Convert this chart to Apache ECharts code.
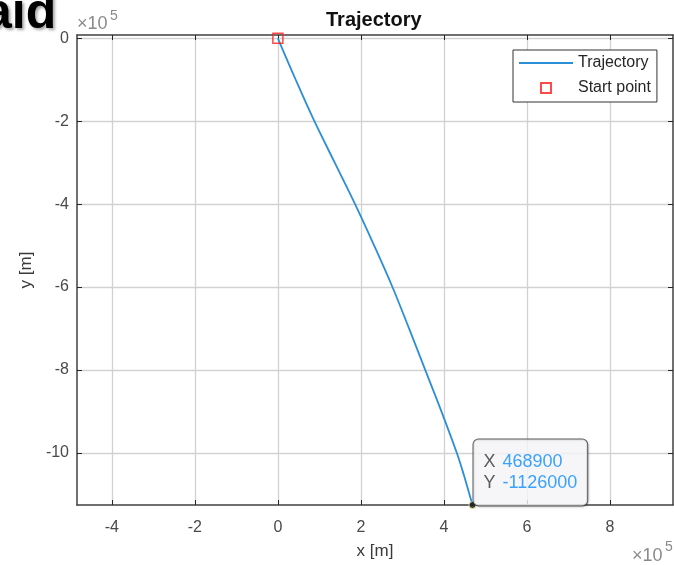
<!DOCTYPE html>
<html>
<head>
<meta charset="utf-8">
<script src="https://cdn.jsdelivr.net/npm/echarts@6/dist/echarts.min.js"></script>
<style>
html,body{margin:0;padding:0;background:#fff;}
#chart{width:674px;height:565px;}
</style>
</head>
<body>
<div id="chart"></div>
<script>
// ---- data ----
const trajX = [0, 43000, 88000, 137000, 186000, 232000, 276000, 316000, 355000, 394000, 431000, 447000, 461500, 468900];
const trajY = [0, -100000, -200000, -300000, -400000, -500000, -600000, -700000, -800000, -900000, -1000000, -1050000, -1100000, -1126000];
const startPoint = [0, 0];
const endPoint = [468900, -1126000];
const xTicks = [-400000, -200000, 0, 200000, 400000, 600000, 800000];
const yTicks = [0, -200000, -400000, -600000, -800000, -1000000];
const xRange = [-484000, 952000];
const yRange = [-1126000, 8000];
const seriesNames = ['Trajectory', 'Start point'];

const chart = echarts.init(document.getElementById('chart'), null, {renderer: 'canvas'});
const FONT = 'Liberation Sans, Arial, sans-serif';
const fmt = v => String(Math.round(v / 1e5 * 100) / 100);

const axisLineStyle = {color: '#404040', width: 1.5};
const tickStyle = {color: '#262626', width: 1};
const gridStyle = {color: '#d2d2d2', width: 1.3};

const option = {
  backgroundColor: '#ffffff',
  animation: false,
  title: {
    text: 'Trajectory',
    left: 326, top: 10, padding: 0,
    textStyle: {fontFamily: FONT, fontSize: 20, fontWeight: 'bold', color: '#111'}
  },
  grid: {left: 77, right: 1, top: 35, bottom: 59, containLabel: false},
  legend: {
    orient: 'vertical',
    left: 513, top: 50,
    padding: [5, 6, 6, 6],
    itemGap: 9,
    itemWidth: 54, itemHeight: 14,
    backgroundColor: '#ffffff',
    borderColor: '#333333', borderWidth: 1,
    textStyle: {fontFamily: FONT, fontSize: 16, color: '#262626'},
    data: [
      {name: seriesNames[0], icon: 'path://M0,0L54,0L54,1.8L0,1.8Z'},
      {name: seriesNames[1], icon: 'path://M-7,-7M7,7M-5,-5L5,-5L5,5L-5,5Z'}
    ]
  },
  xAxis: [{
    type: 'value', min: xRange[0], max: xRange[1],
    name: 'x [m]', nameLocation: 'middle', nameGap: 38,
    nameTextStyle: {fontFamily: FONT, fontSize: 17, color: '#3a3a3a'},
    axisLine: {show: true, onZero: false, lineStyle: axisLineStyle},
    axisTick: {show: true, inside: true, length: 5, lineStyle: tickStyle, customValues: xTicks},
    axisLabel: {show: true, customValues: xTicks, formatter: fmt, margin: 15,
      fontFamily: FONT, fontSize: 16, color: '#4a4a4a'},
    splitLine: {show: true, lineStyle: gridStyle}
  }, {
    type: 'value', min: xRange[0], max: xRange[1], position: 'top',
    axisLine: {show: true, onZero: false, lineStyle: axisLineStyle},
    axisTick: {show: true, inside: true, length: 5, lineStyle: tickStyle, customValues: xTicks},
    axisLabel: {show: false},
    splitLine: {show: false}
  }],
  yAxis: [{
    type: 'value', min: yRange[0], max: yRange[1],
    name: 'y [m]', nameLocation: 'middle', nameGap: 40, nameRotate: 90,
    nameTextStyle: {fontFamily: FONT, fontSize: 17, color: '#3a3a3a'},
    axisLine: {show: true, onZero: false, lineStyle: axisLineStyle},
    axisTick: {show: true, inside: true, length: 5, lineStyle: tickStyle, customValues: yTicks},
    axisLabel: {show: true, customValues: yTicks, formatter: fmt, margin: 8,
      fontFamily: FONT, fontSize: 16, color: '#4a4a4a'},
    splitLine: {show: true, lineStyle: gridStyle}
  }, {
    type: 'value', min: yRange[0], max: yRange[1], position: 'right',
    axisLine: {show: true, onZero: false, lineStyle: axisLineStyle},
    axisTick: {show: true, inside: true, length: 5, lineStyle: tickStyle, customValues: yTicks},
    axisLabel: {show: false},
    splitLine: {show: false}
  }],
  series: [{
    name: seriesNames[0],
    type: 'line',
    xAxisIndex: 0, yAxisIndex: 0,
    data: trajX.map((x, i) => [x, trajY[i]]),
    symbol: 'none',
    smooth: 0.35,
    lineStyle: {color: '#2b8fd6', width: 1.8},
    itemStyle: {color: '#2b8fd6'},
    z: 3
  }, {
    name: seriesNames[1],
    type: 'scatter',
    xAxisIndex: 0, yAxisIndex: 0,
    data: [startPoint],
    symbol: 'rect',
    symbolSize: 10,
    clip: false,
    itemStyle: {color: 'rgba(255,255,255,0)', borderColor: '#ff1a1a', borderWidth: 1.5},
    z: 4
  }, {
    name: 'datatip',
    type: 'scatter',
    xAxisIndex: 0, yAxisIndex: 0,
    data: [endPoint],
    symbol: 'circle',
    symbolSize: 7,
    clip: false,
    itemStyle: {color: '#111111', borderColor: '#f5f0a0', borderWidth: 1},
    label: {
      show: true,
      position: [5, 4.5],
      align: 'left',
      verticalAlign: 'bottom',
      formatter: p => '{k|X}{v|' + p.value[0] + '}\n{k|Y}{v|' + p.value[1] + '}',
      backgroundColor: '#fcfcff',
      borderColor: '#3a3a3a',
      borderWidth: 1,
      borderRadius: 5,
      padding: [12, 10, 12, 10],
      shadowColor: 'rgba(0,0,0,0.18)',
      shadowBlur: 2,
      shadowOffsetX: 1,
      shadowOffsetY: 1,
      rich: {
        k: {fontFamily: FONT, fontSize: 18, color: '#333333', lineHeight: 21, width: 19},
        v: {fontFamily: FONT, fontSize: 18, color: '#0a8cff', lineHeight: 21}
      }
    },
    z: 6
  }],
  graphic: [
    {
      type: 'text', left: -16, top: -11, z: 100,
      style: {
        text: 'aid', fontFamily: FONT, fontSize: 50, fontWeight: 'bold', fill: '#000',
        textShadowColor: 'rgba(0,0,0,0.35)', textShadowBlur: 3, textShadowOffsetX: 2, textShadowOffsetY: 2
      }
    },
    {type: 'text', left: 77, top: 15, style: {text: '×10', fontFamily: FONT, fontSize: 18, fill: '#8a8a8a'}},
    {type: 'text', left: 110, top: 9, style: {text: '5', fontFamily: FONT, fontSize: 14, fill: '#8a8a8a'}},
    {type: 'text', left: 632, top: 547, style: {text: '×10', fontFamily: FONT, fontSize: 18, fill: '#8a8a8a'}},
    {type: 'text', left: 665, top: 540, style: {text: '5', fontFamily: FONT, fontSize: 14, fill: '#8a8a8a'}}
  ]
};
chart.setOption(option);
</script>
</body>
</html>
